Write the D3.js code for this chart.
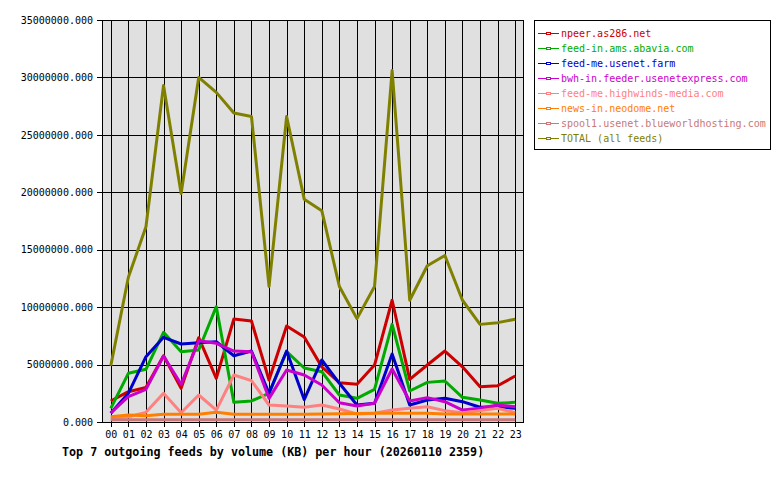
<!DOCTYPE html>
<html>
<head>
<meta charset="utf-8">
<script src="https://cdn.jsdelivr.net/npm/d3@7"></script>
<style>
  body { margin: 0; background: #fff; }
  svg { display: block; }
</style>
</head>
<body>
<script>
// hours on the x axis
var hours = ["00","01","02","03","04","05","06","07","08","09","10","11",
             "12","13","14","15","16","17","18","19","20","21","22","23"];

// KB per hour
var npeer     = [1830000, 2640000, 3000000, 5770000, 2930000, 7340000, 3800000, 8970000, 8790000, 3660000, 8360000, 7400000,
                 4800000, 3420000, 3280000, 4960000, 10600000, 3710000, 4960000, 6180000, 4800000, 3070000, 3160000, 4000000];
var feedIn    = [1190000, 4240000, 4590000, 7810000, 6120000, 6270000, 10040000, 1710000, 1830000, 2500000, 6120000, 4700000,
                 4380000, 2350000, 2060000, 2840000, 8500000, 2700000, 3450000, 3570000, 2150000, 1920000, 1630000, 1710000];
var feedMe    = [760000, 2500000, 5690000, 7370000, 6790000, 6900000, 6990000, 5770000, 6180000, 2500000, 6180000, 1950000,
                 5400000, 3370000, 1480000, 1630000, 5920000, 1480000, 1920000, 2060000, 1770000, 1280000, 1330000, 1190000];
var bwh       = [800000, 2200000, 2840000, 5750000, 3280000, 7080000, 6850000, 6180000, 6120000, 2060000, 4530000, 4090000,
                 3220000, 1680000, 1390000, 1630000, 4610000, 1830000, 2120000, 1770000, 1040000, 1190000, 1480000, 1330000];
var highwinds = [320000, 460000, 840000, 2500000, 810000, 2350000, 1040000, 4090000, 3600000, 1480000, 1390000, 1280000,
                 1480000, 1130000, 700000, 760000, 1040000, 1190000, 1330000, 990000, 810000, 990000, 1190000, 810000];
var neodome   = [460000, 600000, 550000, 670000, 670000, 670000, 840000, 670000, 670000, 670000, 670000, 670000,
                 700000, 720000, 740000, 760000, 760000, 760000, 760000, 700000, 700000, 700000, 700000, 700000];
var spool1    = [200000, 200000, 200000, 200000, 200000, 200000, 200000, 200000, 200000, 200000, 200000, 200000,
                 200000, 200000, 200000, 200000, 200000, 200000, 200000, 200000, 200000, 200000, 200000, 200000];
var total     = [4900000, 12600000, 17000000, 29300000, 19900000, 30000000, 28700000, 26900000, 26600000, 11800000, 26600000, 19400000,
                 18400000, 11800000, 9000000, 11800000, 30600000, 10600000, 13600000, 14500000, 10600000, 8500000, 8650000, 8950000];

var feedNames = ["npeer.as286.net", "feed-in.ams.abavia.com", "feed-me.usenet.farm",
                 "bwh-in.feeder.usenetexpress.com", "feed-me.highwinds-media.com",
                 "news-in.neodome.net", "spool1.usenet.blueworldhosting.com", "TOTAL (all feeds)"];
var feedValues = [npeer, feedIn, feedMe, bwh, highwinds, neodome, spool1, total];
var feedColors = ["#cc0000", "#00aa00", "#0000cc", "#cc00cc", "#ff8080", "#ff8000", "#c87878", "#808000"];

var yTicks = [0, 5000000, 10000000, 15000000, 20000000, 25000000, 30000000, 35000000];
var title = "Top 7 outgoing feeds by volume (KB) per hour (20260110 2359)";

var mono = "'DejaVu Sans Mono', 'Liberation Mono', monospace";
// plot box (window.top is read only, so own names)
var pLeft = 102, pTop = 20, pRight = 524, pBottom = 422;

var svg = d3.select("body").append("svg")
    .attr("width", 780)
    .attr("height", 480);

var x = d3.scalePoint()
    .domain(hours)
    .range([pLeft, pRight])
    .padding(0.5);

var y = d3.scaleLinear()
    .domain([0, 35000000])
    .range([pBottom, pTop]);

// plot background
svg.append("rect")
    .attr("x", pLeft).attr("y", pTop)
    .attr("width", pRight - pLeft).attr("height", pBottom - pTop)
    .attr("fill", "#e0e0e0");

// grid
var xGrid = d3.axisBottom(x).tickSize(-(pBottom - pTop)).tickFormat("");
svg.append("g")
    .attr("transform", "translate(0," + pBottom + ")")
    .call(xGrid)
    .call(function(g) { g.select(".domain").remove(); })
    .selectAll("line").attr("stroke", "#000").attr("shape-rendering", "crispEdges");

var yGrid = d3.axisLeft(y).tickValues(yTicks).tickSize(-(pRight - pLeft)).tickFormat("");
svg.append("g")
    .attr("transform", "translate(" + pLeft + ",0)")
    .call(yGrid)
    .call(function(g) { g.select(".domain").remove(); })
    .selectAll("line").attr("stroke", "#000").attr("shape-rendering", "crispEdges");

// lines
svg.append("clipPath").attr("id", "plotclip")
  .append("rect")
    .attr("x", pLeft).attr("y", pTop)
    .attr("width", pRight - pLeft).attr("height", pBottom - pTop);

var line = d3.line()
    .x(function(d, i) { return x(hours[i]); })
    .y(function(d) { return y(d); });

svg.append("g")
    .attr("clip-path", "url(#plotclip)")
  .selectAll("path")
    .data(feedValues)
    .enter().append("path")
    .attr("d", line)
    .attr("fill", "none")
    .attr("stroke", function(d, i) { return feedColors[i]; })
    .attr("stroke-width", 3)
    .attr("stroke-linejoin", "round");

// frame
svg.append("rect")
    .attr("x", pLeft + 0.5).attr("y", pTop + 0.5)
    .attr("width", pRight - pLeft - 1).attr("height", pBottom - pTop)
    .attr("fill", "none")
    .attr("stroke", "#000");

// axes
var yAxis = d3.axisLeft(y)
    .tickValues(yTicks)
    .tickSize(5)
    .tickPadding(4)
    .tickFormat(d3.format(".3f"));

svg.append("g")
    .attr("transform", "translate(" + pLeft + ",0)")
    .call(yAxis)
    .call(function(g) { g.select(".domain").remove(); })
    .call(function(g) {
      g.selectAll("line").attr("stroke", "#000").attr("shape-rendering", "crispEdges");
      g.selectAll("text").attr("font-family", mono).attr("font-size", "10px").attr("fill", "#000");
    });

var xAxis = d3.axisBottom(x)
    .tickSize(5)
    .tickPadding(4);

svg.append("g")
    .attr("transform", "translate(0," + pBottom + ")")
    .call(xAxis)
    .call(function(g) { g.select(".domain").remove(); })
    .call(function(g) {
      g.selectAll("line").attr("stroke", "#000").attr("shape-rendering", "crispEdges");
      g.selectAll("text").attr("font-family", mono).attr("font-size", "10px").attr("fill", "#000");
    });

// title
svg.append("text")
    .attr("x", 62)
    .attr("y", 456)
    .attr("font-family", mono)
    .attr("font-weight", "bold")
    .attr("font-size", "11.7px")
    .attr("fill", "#000")
    .text(title);

// legend
svg.append("rect")
    .attr("x", 534.5).attr("y", 20.5)
    .attr("width", 236).attr("height", 129)
    .attr("fill", "#fff")
    .attr("stroke", "#000");

var items = svg.selectAll("g.legend")
    .data(feedNames)
    .enter().append("g")
    .attr("class", "legend")
    .attr("transform", function(d, i) { return "translate(0," + (33 + i * 15) + ")"; });

items.append("line")
    .attr("x1", 538).attr("x2", 559)
    .attr("y1", 0.5).attr("y2", 0.5)
    .attr("stroke", function(d, i) { return feedColors[i]; });

items.append("rect")
    .attr("x", 546.5).attr("y", -0.5)
    .attr("width", 4).attr("height", 2)
    .attr("fill", "#fff")
    .attr("stroke", function(d, i) { return feedColors[i]; });

items.append("text")
    .attr("x", 561)
    .attr("y", 4)
    .attr("font-family", mono)
    .attr("font-size", "10px")
    .attr("fill", function(d, i) { return feedColors[i]; })
    .text(function(d) { return d; });
</script>
</body>
</html>
